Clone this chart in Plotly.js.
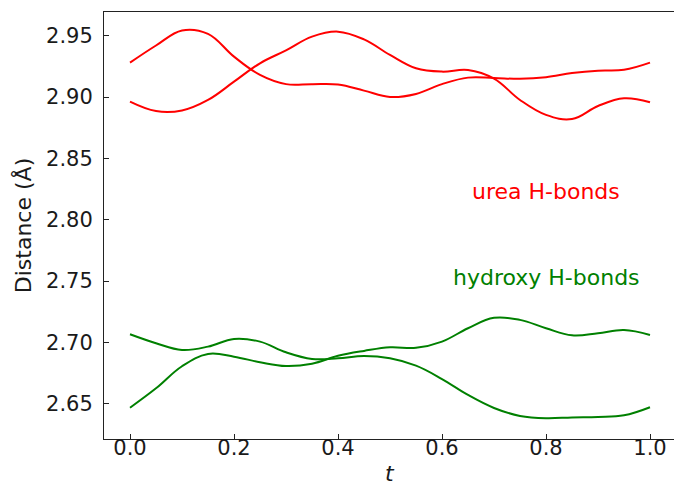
<!DOCTYPE html>
<html>
<head>
<meta charset="utf-8">
<script src="https://cdn.plot.ly/plotly-3.0.1.min.js"></script>
<style>
html, body { margin: 0; padding: 0; overflow: hidden; background: #fff; }
#chart { width: 676px; height: 489px; }
</style>
</head>
<body>
<div id="chart"></div>
<script>
// Reaction coordinate t
const t = [0.00, 0.05, 0.10, 0.15, 0.20, 0.25, 0.30, 0.35, 0.40, 0.45, 0.50,
           0.55, 0.60, 0.65, 0.70, 0.75, 0.80, 0.85, 0.90, 0.95, 1.00];

// urea H-bond distances (Å)
const ureaA = [2.928, 2.942, 2.9543, 2.9515, 2.9329, 2.918, 2.9105, 2.9105, 2.9102, 2.9052, 2.900,
               2.9025, 2.9105, 2.9158, 2.9155, 2.9148, 2.9161, 2.9195, 2.9215, 2.9222, 2.928];
const ureaB = [2.8962, 2.8885, 2.889, 2.8976, 2.9125, 2.9275, 2.938, 2.9492, 2.9533, 2.947, 2.9343,
               2.9234, 2.9207, 2.922, 2.915, 2.8976, 2.8854, 2.882, 2.8927, 2.899, 2.8957];

// hydroxy H-bond distances (Å)
const hydroxyC = [2.7066, 2.6993, 2.6938, 2.6965, 2.7028, 2.7006, 2.6919, 2.6865, 2.687, 2.6889, 2.687,
                  2.681, 2.6701, 2.6571, 2.6465, 2.640, 2.6381, 2.6388, 2.6392, 2.6405, 2.6471];
const hydroxyD = [2.6467, 2.6625, 2.6805, 2.6905, 2.6883, 2.6838, 2.6807, 2.6826, 2.689, 2.693, 2.696,
                  2.6955, 2.7006, 2.7115, 2.720, 2.7183, 2.7115, 2.7057, 2.7074, 2.710, 2.706];

const xTicks = [0.0, 0.2, 0.4, 0.6, 0.8, 1.0];
const xTickText = ["0.0", "0.2", "0.4", "0.6", "0.8", "1.0"];
const yTicks = [2.65, 2.70, 2.75, 2.80, 2.85, 2.90, 2.95];
const yTickText = ["2.65", "2.70", "2.75", "2.80", "2.85", "2.90", "2.95"];

const labels = [
  {text: "urea H-bonds", x: 0.8, y: 2.823, color: "#ff0000"},
  {text: "hydroxy H-bonds", x: 0.8, y: 2.753, color: "#008000"}
];

const RED = "#ff0000", GREEN = "#008000";
function line(y, color) {
  return {x: t, y: y, type: "scatter", mode: "lines",
          line: {color: color, width: 2, shape: "spline", smoothing: 1.1},
          hoverinfo: "x+y", showlegend: false};
}
const data = [line(ureaA, RED), line(ureaB, RED), line(hydroxyC, GREEN), line(hydroxyD, GREEN)];

const axisCommon = {
  showgrid: false, zeroline: false, showline: true, mirror: true,
  linecolor: "#222", linewidth: 1, ticks: "inside", ticklen: 5, tickwidth: 1,
  tickcolor: "#222", tickfont: {family: "DejaVu Sans", size: 21, color: "#1a1a1a"},
  automargin: false
};

const annotations = labels.map(a => ({
  text: a.text, x: a.x, y: a.y, xref: "x", yref: "y", showarrow: false,
  xanchor: "center", yanchor: "middle",
  font: {family: "DejaVu Sans", size: 22, color: a.color}
}));
// x-axis title, placed low near the bottom edge as in the reference
annotations.push({
  text: "<i>t</i>", x: 0.5, y: -0.115, xref: "paper", yref: "paper", showarrow: false,
  xanchor: "center", yanchor: "bottom",
  font: {family: "DejaVu Sans", size: 22, color: "#1a1a1a"}
});

const layout = {
  width: 676, height: 489,
  margin: {l: 104, r: 0, t: 12, b: 50},
  paper_bgcolor: "#fff", plot_bgcolor: "#fff",
  font: {family: "DejaVu Sans", color: "#1a1a1a"},
  xaxis: Object.assign({}, axisCommon, {
    range: [-0.05, 1.05], tickvals: xTicks, ticktext: xTickText, ticklabelstandoff: -10
  }),
  yaxis: Object.assign({}, axisCommon, {
    range: [2.6212, 2.9693], tickvals: yTicks, ticktext: yTickText, ticklabelstandoff: 6,
    title: {text: "Distance (Å)", font: {family: "DejaVu Sans", size: 22, color: "#1a1a1a"}, standoff: 8}
  }),
  annotations: annotations
};

Plotly.newPlot("chart", data, layout, {displayModeBar: false, staticPlot: true});
</script>
</body>
</html>
